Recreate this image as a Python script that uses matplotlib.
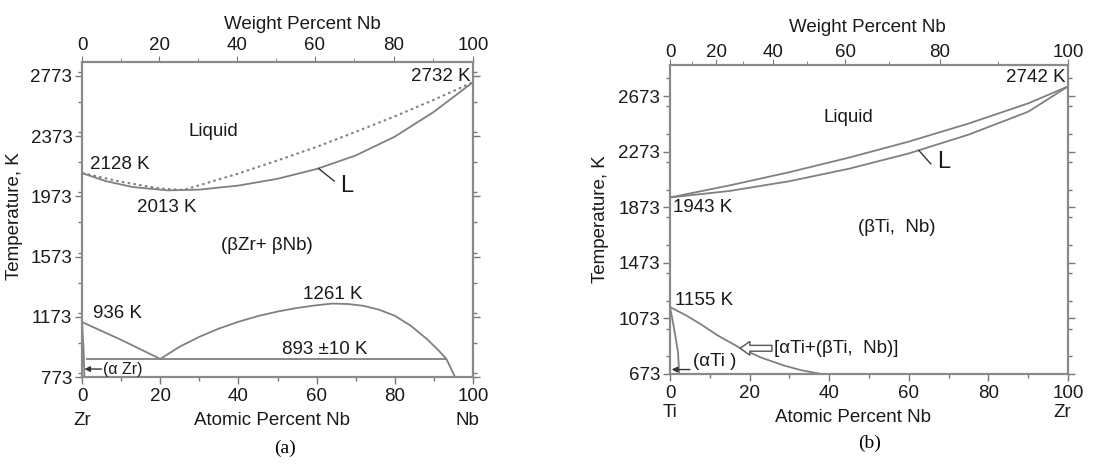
import matplotlib
matplotlib.use('Agg')
import matplotlib.pyplot as plt
from matplotlib.ticker import MultipleLocator, FixedLocator
import numpy as np

plt.rcParams['font.family'] = ['Liberation Sans', 'DejaVu Sans']

# atomic masses for the weight-percent axes
M_ZR = 91.22
M_NB = 92.91
M_TI = 47.87

# --- Zr-Nb diagram ---
zrnb_liq_at = [0, 6, 13, 22, 30, 40, 50, 60, 70, 80, 90, 100]
zrnb_liq_T = [2128, 2075, 2035, 2013, 2018, 2045, 2090, 2155, 2245, 2370, 2535, 2732]
zrnb_sol_at = [0, 10, 20, 26, 40, 50, 60, 70, 80, 90, 100]
zrnb_sol_T = [2128, 2070, 2025, 2016, 2125, 2212, 2302, 2402, 2505, 2615, 2732]
zrnb_transus_at = [0, 10, 20]
zrnb_transus_T = [1138, 1020, 893]
zrnb_gap_at = [20, 25, 30, 35, 40, 45, 50, 55, 60, 64, 68, 72, 76, 80, 84, 88, 91, 93.2, 95.4]
zrnb_gap_T = [893, 975, 1040, 1095, 1140, 1178, 1208, 1232, 1250, 1261, 1258, 1246, 1220, 1180, 1115, 1030, 955, 893, 773]
zrnb_alpha_at = [0, 0.4, 0.6]
zrnb_alpha_T = [1138, 950, 773]
zrnb_mono_at = [0.9, 93.2]
zrnb_mono_T = 893

# --- Ti-Zr diagram ---
tizr_liq_at = [0, 15, 30, 45, 60, 75, 90, 100]
tizr_liq_T = [1943, 2030, 2125, 2230, 2345, 2475, 2620, 2742]
tizr_sol_at = [0, 15, 30, 45, 60, 75, 90, 100]
tizr_sol_T = [1943, 1990, 2060, 2150, 2260, 2395, 2560, 2742]
tizr_transus_at = [0, 4, 7.5, 12, 17.6, 23, 28.5, 33, 38]
tizr_transus_T = [1155, 1095, 1035, 950, 860, 790, 735, 700, 673]
tizr_alpha_at = [0, 0.5, 1.25, 2.0, 2.3]
tizr_alpha_T = [1155, 1080, 960, 830, 673]

wt_ticks = [0, 20, 40, 60, 80, 100]

LINE = '#808080'
TXT = '#1a1a1a'
FS = 13.5


def at_to_wt(m_a, m_b):
    def f(a):
        a = np.asarray(a, dtype=float)
        with np.errstate(divide='ignore', invalid='ignore'):
            return 100 * a * m_b / (a * m_b + (100 - a) * m_a)
    return f


def wt_to_at(m_a, m_b):
    def f(w):
        w = np.asarray(w, dtype=float)
        with np.errstate(divide='ignore', invalid='ignore'):
            return 100 * (w / m_b) / (w / m_b + (100 - w) / m_a)
    return f


def style_axes(ax, yticks, ylim, m_a, m_b, top_pad):
    ax.set_xlim(0, 100)
    ax.set_ylim(*ylim)
    ax.xaxis.set_major_locator(MultipleLocator(20))
    ax.xaxis.set_minor_locator(MultipleLocator(10))
    ax.yaxis.set_major_locator(FixedLocator(yticks))
    ax.yaxis.set_minor_locator(MultipleLocator(200))
    ax.tick_params(which='both', direction='out', colors='#777777',
                   labelcolor=TXT, labelsize=FS, right=True)
    ax.tick_params(which='major', length=5, width=1)
    ax.tick_params(which='minor', length=3, width=1)
    ax.tick_params(axis='x', pad=3)
    ax.tick_params(axis='y', pad=2)
    for sp in ax.spines.values():
        sp.set_color('#8a8a8a')
        sp.set_linewidth(1.6)
    sec = ax.secondary_xaxis('top', functions=(at_to_wt(m_a, m_b), wt_to_at(m_a, m_b)))
    sec.set_xticks(wt_ticks)
    sec.xaxis.set_minor_locator(FixedLocator([10, 30, 50, 70, 90]))
    sec.tick_params(which='both', direction='out', colors='#777777',
                    labelcolor=TXT, labelsize=FS, pad=top_pad)
    sec.tick_params(which='major', length=4)
    sec.tick_params(which='minor', length=3)
    sec.spines['top'].set_visible(False)
    return sec


fig = plt.figure(figsize=(10.97, 4.65), dpi=100)
ax1 = fig.add_axes([0.0748, 0.1892, 0.3564, 0.6775])
ax2 = fig.add_axes([0.6108, 0.1957, 0.3628, 0.6645])

# Zr-Nb
style_axes(ax1, [773, 1173, 1573, 1973, 2373, 2773], (773, 2866), M_ZR, M_NB, 2)
ax1.plot(zrnb_liq_at, zrnb_liq_T, color=LINE, lw=1.3)
ax1.plot(zrnb_sol_at, zrnb_sol_T, color=LINE, lw=1.5, ls=(0, (1.2, 1.6)))
ax1.plot(zrnb_transus_at, zrnb_transus_T, color=LINE, lw=1.3)
ax1.plot(zrnb_gap_at, zrnb_gap_T, color=LINE, lw=1.3)
ax1.plot(zrnb_alpha_at, zrnb_alpha_T, color=LINE, lw=1.3)
ax1.hlines(zrnb_mono_T, zrnb_mono_at[0], zrnb_mono_at[1], color=LINE, lw=1.3)
ax1.plot([60.5, 64.5], [2158, 2075], color='#333333', lw=1)
ax1.annotate('', xy=(0.6, 826), xytext=(5.0, 826),
             arrowprops=dict(arrowstyle='-|>', color='#333333', lw=1,
                             mutation_scale=8, shrinkA=0, shrinkB=0))

ax1.text(33.6, 2401, 'Liquid', ha='center', va='center', fontsize=FS, color=TXT)
ax1.text(2, 2182, '2128 K', ha='left', va='center', fontsize=FS, color=TXT)
ax1.text(21.7, 1896, '2013 K', ha='center', va='center', fontsize=FS, color=TXT)
ax1.text(99.5, 2770, '2732 K', ha='right', va='center', fontsize=FS, color=TXT)
ax1.text(66, 2040, 'L', ha='left', va='center', fontsize=17, color=TXT)
ax1.text(47.3, 1650, '(βZr+ βNb)', ha='center', va='center', fontsize=FS, color=TXT)
ax1.text(2.8, 1195, '936 K', ha='left', va='center', fontsize=FS, color=TXT)
ax1.text(64, 1318, '1261 K', ha='center', va='center', fontsize=FS, color=TXT)
ax1.text(62, 959, '893 ±10 K', ha='center', va='center', fontsize=FS, color=TXT)
ax1.text(5.4, 826, '(α Zr)', ha='left', va='center', fontsize=11.5, color=TXT)

ax1.set_ylabel('Temperature, K', fontsize=FS, color=TXT)
ax1.yaxis.set_label_coords(-0.15, 0.51)
ax1.text(0.563, 1.12, 'Weight Percent Nb', transform=ax1.transAxes,
         ha='center', va='center', fontsize=FS, color=TXT)
ax1.text(0.0, -0.137, 'Zr', transform=ax1.transAxes, ha='center', va='center',
         fontsize=FS, color=TXT)
ax1.text(0.485, -0.137, 'Atomic Percent Nb', transform=ax1.transAxes,
         ha='center', va='center', fontsize=FS, color=TXT)
ax1.text(0.985, -0.137, 'Nb', transform=ax1.transAxes, ha='center', va='center',
         fontsize=FS, color=TXT)

# Ti-Zr
style_axes(ax2, [673, 1073, 1473, 1873, 2273, 2673], (673, 2896), M_TI, M_ZR, -1)
ax2.plot(tizr_liq_at, tizr_liq_T, color=LINE, lw=1.3)
ax2.plot(tizr_sol_at, tizr_sol_T, color=LINE, lw=1.3)
ax2.plot(tizr_transus_at, tizr_transus_T, color=LINE, lw=1.3)
ax2.plot(tizr_alpha_at, tizr_alpha_T, color=LINE, lw=1.3)
ax2.plot([62.5, 65.5], [2282, 2185], color='#333333', lw=1)
ax2.annotate('', xy=(0.4, 705), xytext=(5.0, 705),
             arrowprops=dict(arrowstyle='-|>', color='#333333', lw=1,
                             mutation_scale=8, shrinkA=0, shrinkB=0))
ax2.annotate('', xy=(17.6, 858), xytext=(25.6, 858),
             arrowprops=dict(arrowstyle='simple,head_length=0.5,head_width=0.7,tail_width=0.3',
                             fc='white', ec='#555555', lw=1, mutation_scale=14,
                             shrinkA=0, shrinkB=0))

ax2.text(44.7, 2516, 'Liquid', ha='center', va='center', fontsize=FS, color=TXT)
ax2.text(99.5, 2804, '2742 K', ha='right', va='center', fontsize=FS, color=TXT)
ax2.text(67, 2200, 'L', ha='left', va='center', fontsize=17, color=TXT)
ax2.text(0.8, 1868, '1943 K', ha='left', va='center', fontsize=FS, color=TXT)
ax2.text(57, 1724, '(βTi,  Nb)', ha='center', va='center', fontsize=FS, color=TXT)
ax2.text(1.3, 1205, '1155 K', ha='left', va='center', fontsize=FS, color=TXT)
ax2.text(26, 858, '[αTi+(βTi,  Nb)]', ha='left', va='center', fontsize=FS, color=TXT)
ax2.text(5.8, 765, '(αTi )', ha='left', va='center', fontsize=FS, color=TXT)

ax2.set_ylabel('Temperature, K', fontsize=FS, color=TXT)
ax2.yaxis.set_label_coords(-0.153, 0.5)
ax2.text(0.495, 1.123, 'Weight Percent Nb', transform=ax2.transAxes,
         ha='center', va='center', fontsize=FS, color=TXT)
ax2.text(0.0, -0.126, 'Ti', transform=ax2.transAxes, ha='center', va='center',
         fontsize=FS, color=TXT)
ax2.text(0.46, -0.142, 'Atomic Percent Nb', transform=ax2.transAxes,
         ha='center', va='center', fontsize=FS, color=TXT)
ax2.text(0.985, -0.126, 'Zr', transform=ax2.transAxes, ha='center', va='center',
         fontsize=FS, color=TXT)

fig.text(0.26, 0.017, '(a)', ha='center', va='bottom', fontsize=14,
         family='Liberation Serif', color='black')
fig.text(0.793, 0.028, '(b)', ha='center', va='bottom', fontsize=14,
         family='Liberation Serif', color='black')

fig.savefig('out.png', dpi=100)
